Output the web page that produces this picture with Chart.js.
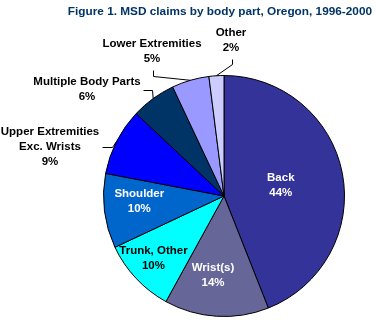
<!DOCTYPE html>
<html>
<head>
<meta charset="utf-8">
<script src="https://cdn.jsdelivr.net/npm/chart.js@4.4.1/dist/chart.umd.min.js"></script>
<style>
  html, body { margin: 0; padding: 0; background: #fff; }
</style>
</head>
<body>
<canvas id="chart" width="376" height="323"></canvas>
<script>
const TITLE = "Figure 1. MSD claims by body part, Oregon, 1996-2000"

const PARTS = [
  "Back",
  "Wrist(s)",
  "Trunk, Other",
  "Shoulder",
  "Upper Extremities Exc. Wrists",
  "Multiple Body Parts",
  "Lower Extremities",
  "Other",
]
const LABEL_LINES = [
  ["Back"],
  ["Wrist(s)"],
  ["Trunk, Other"],
  ["Shoulder"],
  ["Upper Extremities", "Exc. Wrists"],
  ["Multiple Body Parts"],
  ["Lower Extremities"],
  ["Other"],
]
const PERCENTS = [44, 14, 10, 10, 9, 6, 5, 2]

const COLORS = [
  "#333399",  // back
  "#666699",  // wrists
  "#00ffff",  // trunk
  "#0066cc",  // shoulder
  "#0000ff",  // upper extremities
  "#003366",  // multiple
  "#9999ff",  // lower extremities
  "#ccccff",  // other
]

// inside labels sit along the slice's mid angle; outside ones get a leader line
const PLACEMENT = [
  { inside: true, r: 0.48, dx: 0, dy: 0, color: "#fff" },
  { inside: true, r: 0.66, dx: -6, dy: 0, color: "#fff" },
  { inside: true, r: 0.78, dx: -2, dy: -2, color: "#000" },
  { inside: true, r: 0.70, dx: -1, dy: -5, color: "#fff" },
  { x: 50, y: 132, elbow: [112, 147], end: [102, 147] },
  { x: 87, y: 82, elbow: [152, 90], end: [143, 90] },
  { x: 152, y: 44, elbow: [153, 76], end: [153, 70] },
  { x: 231, y: 33, elbow: [232, 64], end: [232, 59] },
]

const LABEL_FONT = "bold 11.5px 'Liberation Sans', Arial, sans-serif"
const LINE_GAP = 15

const sliceLabels = {
  id: "sliceLabels",
  afterDraw(chart) {
    const ctx = chart.ctx
    const arcs = chart.getDatasetMeta(0).data
    ctx.save()
    ctx.font = LABEL_FONT
    ctx.textAlign = "center"
    ctx.textBaseline = "middle"
    arcs.forEach((arc, i) => {
      const p = PLACEMENT[i]
      const { x, y, startAngle, endAngle, outerRadius } = arc.getProps(
        ["x", "y", "startAngle", "endAngle", "outerRadius"], true)
      const mid = (startAngle + endAngle) / 2
      const lines = LABEL_LINES[i].concat([PERCENTS[i] + "%"])
      let tx, ty
      if (p.inside) {
        tx = x + Math.cos(mid) * outerRadius * p.r + p.dx
        ty = y + Math.sin(mid) * outerRadius * p.r + p.dy - (lines.length - 1) * LINE_GAP / 2
        ctx.fillStyle = p.color
      } else {
        tx = p.x
        ty = p.y
        ctx.fillStyle = "#000"
        // leader from the arc edge through the elbow to the label
        ctx.strokeStyle = "#000"
        ctx.lineWidth = 1
        ctx.beginPath()
        ctx.moveTo(x + Math.cos(mid) * outerRadius, y + Math.sin(mid) * outerRadius)
        ctx.lineTo(p.elbow[0] + 0.5, p.elbow[1] + 0.5)
        ctx.lineTo(p.end[0] + 0.5, p.end[1] + 0.5)
        ctx.stroke()
      }
      lines.forEach((line, k) => ctx.fillText(line, tx, ty + k * LINE_GAP))
    })

    // title, right-aligned across the top
    ctx.font = "bold 11.8px 'Liberation Sans', Arial, sans-serif"
    ctx.fillStyle = "#003366"
    ctx.textAlign = "right"
    ctx.textBaseline = "alphabetic"
    ctx.fillText(TITLE, 372, 15)
    ctx.restore()
  },
}

new Chart(document.getElementById("chart"), {
  type: "pie",
  data: {
    labels: PARTS,
    datasets: [{
      data: PERCENTS,
      backgroundColor: COLORS,
      borderColor: "#000",
      borderWidth: 1,
    }],
  },
  options: {
    responsive: false,
    animation: false,
    events: [],
    layout: { padding: { top: 75, bottom: 6, left: 103, right: 31 } },
    plugins: {
      legend: { display: false },
      tooltip: { enabled: false },
      title: { display: false },
    },
  },
  plugins: [sliceLabels],
})
</script>
</body>
</html>
